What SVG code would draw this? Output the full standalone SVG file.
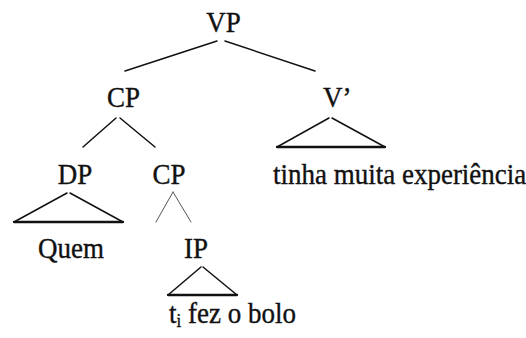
<svg xmlns="http://www.w3.org/2000/svg" width="526" height="338" viewBox="0 0 526 338">
<style>
.t{font-size:27px;fill:#111;stroke:#111;stroke-width:0.35}
.m{text-anchor:middle}
line{stroke:#111;stroke-width:1.5;stroke-linecap:round}
.thin{stroke:#555;stroke-width:1}
.base{stroke-width:2.3}
</style>
<rect width="526" height="338" fill="#fff"/>
<g id="connectors">
<line x1="217" y1="41" x2="125" y2="71"/>
<line x1="225" y1="41" x2="315" y2="71"/>
<line x1="116" y1="118" x2="83" y2="147"/>
<line x1="120" y1="118" x2="155" y2="147"/>
<line x1="173" y1="192" x2="156" y2="222" class="thin"/>
<line x1="173" y1="192" x2="191" y2="222" class="thin"/>
</g>
<g font-family="Liberation Serif, serif">
<g id="VP"><text class="t m" transform="translate(223.5,32) scale(1,1.12)">VP</text></g>
<g id="CP1"><text class="t m" transform="translate(123.5,107) scale(1,1.12)">CP</text></g>
<g id="Vbar"><text class="t" transform="translate(323,107) scale(1,1.12)">V’</text>
<line x1="329" y1="118" x2="277" y2="147"/>
<line x1="332" y1="118" x2="385" y2="147"/>
<line x1="277" y1="147" x2="385" y2="147" class="base"/>
</g>
<g id="DP"><text class="t m" transform="translate(75,184) scale(1,1.12)">DP</text>
<line x1="67" y1="193" x2="14" y2="222"/>
<line x1="70" y1="193" x2="123" y2="222"/>
<line x1="14" y1="222" x2="123" y2="222" class="base"/>
</g>
<g id="CP2"><text class="t m" transform="translate(169,184) scale(1,1.12)">CP</text></g>
<g id="V-yield"><text class="t" transform="translate(273,184) scale(1,1.12)">tinha muita experiência</text></g>
<g id="Quem"><text class="t" transform="translate(38,258) scale(1,1.12)">Quem</text></g>
<g id="IP"><text class="t m" transform="translate(196,258) scale(1,1.12)">IP</text>
<line x1="201" y1="267" x2="168" y2="295"/>
<line x1="203" y1="267" x2="237" y2="295"/>
<line x1="168" y1="295" x2="237" y2="295" class="base"/>
</g>
<g id="IP-yield"><text class="t" transform="translate(169,323) scale(1,1.12)">t<tspan font-size="17" dy="4">i</tspan><tspan dy="-4"> fez o bolo</tspan></text></g>
</g>
</svg>
